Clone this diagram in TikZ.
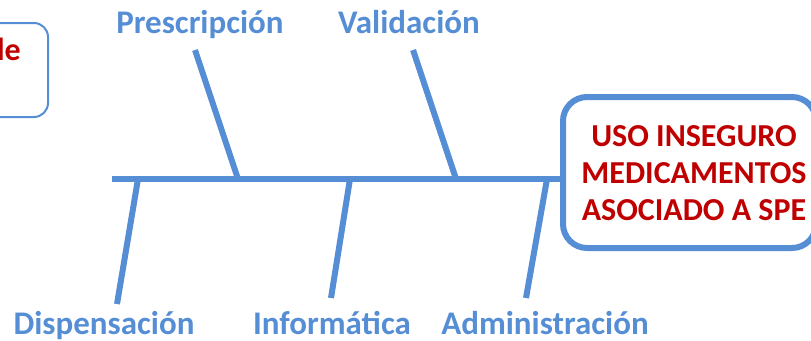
\documentclass[tikz,border=0pt]{standalone}
\usepackage{fontspec}
\setmainfont{Carlito}
\definecolor{boneblue}{HTML}{558ED5}
\definecolor{darkred}{HTML}{C00000}
\begin{document}
\begin{tikzpicture}[x=1pt,y=-1pt,
  bone/.style={draw=boneblue,line width=6pt},
  cat/.style={font=\fontsize{33}{33}\selectfont\bfseries,text=boneblue,inner sep=0pt,anchor=base},
  effect/.style={draw=boneblue,line width=6pt,rounded corners=24pt,fill=white,
     minimum width=253pt,minimum height=151pt,inner sep=0pt},
  redtxt/.style={font=\fontsize{32}{37}\selectfont\bfseries,text=darkred}]
\useasboundingbox (0,0) rectangle (811,340);
\clip (0,0) rectangle (811,340);
% left partial box
\node[draw=boneblue,line width=2pt,rounded corners=14pt,minimum width=150pt,minimum height=94pt,inner sep=0pt] (leftbox) at (-27,70) {};
\node[redtxt,anchor=base east,inner sep=0pt] (lefttxt) at (21,60) {le};
% effect box
\node[effect] (head) at (689.5,172.5) {};
\node[redtxt,align=center,inner sep=0pt,anchor=base] (headtxt) at (694,220) {USO INSEGURO\\MEDICAMENTOS\\ASOCIADO A SPE};
% spine
\coordinate (tail) at (112,179);
\draw[bone] (tail) -- (tail -| head.west);
% bone points on spine
\coordinate (s1) at (238,179);
\coordinate (s2) at (456,179);
\coordinate (s3) at (138,179);
\coordinate (s4) at (350,179);
\coordinate (s5) at (547,179);
\coordinate (e1) at (195,50);
\coordinate (e2) at (413,50);
\coordinate (e3) at (117,304);
\coordinate (e4) at (331,298);
\coordinate (e5) at (526,298);
\draw[bone] (s1) -- (e1);
\draw[bone] (s2) -- (e2);
\draw[bone] (s3) -- (e3);
\draw[bone] (s4) -- (e4);
\draw[bone] (s5) -- (e5);
% labels
\node[cat] (presc) at (200,33) {Prescripción};
\node[cat] (valid) at (409,33) {Validación};
\node[cat] (disp) at (104,334) {Dispensación};
\node[cat] (info) at (332,334) {Informática};
\node[cat] (admin) at (545,334) {Administración};
\end{tikzpicture}
\end{document}
